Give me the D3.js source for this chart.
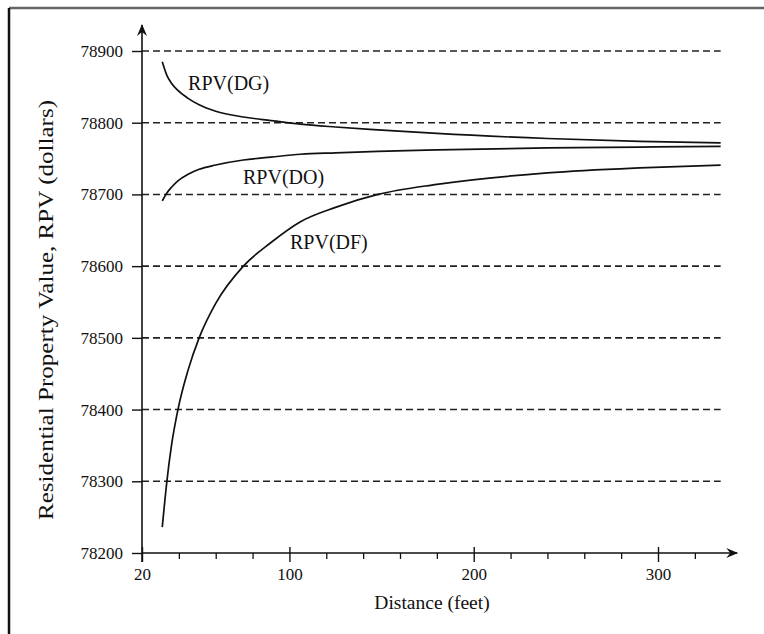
<!DOCTYPE html>
<html>
<head>
<meta charset="utf-8">
<script src="https://d3js.org/d3.v7.min.js"></script>
<style>
body{margin:0;background:#fff;}
text{font-family:"Liberation Serif","DejaVu Serif",serif;fill:#111;}
</style>
</head>
<body>
<svg id="chart" width="764" height="634"></svg>
<script>
/* values */
var distances = [31, 33.5, 36, 39.5, 45, 51, 60, 75, 90, 106, 125, 148, 180, 240, 290, 334];
var rpvDG = [78885, 78866, 78855, 78845, 78834, 78825, 78816, 78808, 78803, 78798, 78794, 78790, 78785, 78778, 78774, 78772];
var rpvDO = [78691, 78702, 78710, 78719, 78728, 78735, 78741, 78748, 78752, 78756, 78758, 78760, 78762, 78765, 78766, 78767];
var rpvDF = [78236, 78300, 78350, 78400, 78455, 78500, 78548, 78600, 78633, 78662, 78682, 78700, 78714, 78730, 78737, 78741];
var xMajor = [20, 100, 200, 300];
var xMinor = [40, 60, 80, 120, 140, 160, 180, 220, 240, 260, 280, 320];
var yTicks = [78200, 78300, 78400, 78500, 78600, 78700, 78800, 78900];
var seriesNames = ["RPV(DG)", "RPV(DO)", "RPV(DF)"];
var serif = "'Liberation Serif','DejaVu Serif',serif";

var svg = d3.select("#chart");

var x = d3.scaleLinear().domain([20, 300]).range([142, 658]);
var y = d3.scaleLinear().domain([78200, 78900]).range([553, 51]);

/* frame */
svg.append("line").attr("x1", 9).attr("x2", 764).attr("y1", 8).attr("y2", 8)
    .attr("stroke", "#666").attr("stroke-width", 2.5);
svg.append("line").attr("x1", 9).attr("x2", 9).attr("y1", 8).attr("y2", 634)
    .attr("stroke", "#111").attr("stroke-width", 2.5);

/* dashed grid */
svg.append("g").selectAll("line")
    .data(yTicks.slice(1))
    .enter().append("line")
    .attr("x1", x(20)).attr("x2", x(334))
    .attr("y1", function(d){ return y(d); })
    .attr("y2", function(d){ return y(d); })
    .attr("stroke", "#222").attr("stroke-width", 1.6)
    .attr("stroke-dasharray", "7,4");

/* axes */
var defs = svg.append("defs");
defs.append("marker").attr("id", "arrow")
    .attr("viewBox", "0 0 12 10").attr("refX", 11).attr("refY", 5)
    .attr("markerWidth", 12).attr("markerHeight", 10)
    .attr("markerUnits", "userSpaceOnUse").attr("orient", "auto")
    .append("path").attr("d", "M0,0 L12,5 L0,10 L4,5 Z").attr("fill", "#111");

svg.append("line").attr("x1", x(20)).attr("x2", x(20)).attr("y1", 562).attr("y2", 25)
    .attr("stroke", "#111").attr("stroke-width", 1.6).attr("marker-end", "url(#arrow)");
svg.append("line").attr("x1", x(20)).attr("x2", x(343)).attr("y1", y(78200)).attr("y2", y(78200))
    .attr("stroke", "#111").attr("stroke-width", 1.6).attr("marker-end", "url(#arrow)");

var xAxis = svg.append("g").attr("transform", "translate(0," + y(78200) + ")")
    .call(d3.axisBottom(x).tickValues(xMajor).tickSize(9).tickPadding(6).tickFormat(d3.format("d")))
    .attr("font-family", serif).attr("font-size", 17);
xAxis.select(".domain").remove();
xAxis.selectAll(".tick line").attr("y1", -6).attr("stroke", "#111").attr("stroke-width", 1.4);
xAxis.selectAll("text").attr("fill", "#111");

var xAxisMinor = svg.append("g").attr("transform", "translate(0," + y(78200) + ")")
    .call(d3.axisBottom(x).tickValues(xMinor).tickSize(6).tickFormat(""));
xAxisMinor.select(".domain").remove();
xAxisMinor.selectAll(".tick line").attr("stroke", "#111").attr("stroke-width", 1.3);

var yAxis = svg.append("g").attr("transform", "translate(" + x(20) + ",0)")
    .call(d3.axisLeft(y).tickValues(yTicks).tickSize(10).tickPadding(9).tickFormat(d3.format("d")))
    .attr("font-family", serif).attr("font-size", 17);
yAxis.select(".domain").remove();
yAxis.selectAll(".tick line").attr("stroke", "#111").attr("stroke-width", 1.4);
yAxis.selectAll("text").attr("fill", "#111");

/* curves */
var line = d3.line()
    .x(function(d){ return x(d[0]); })
    .y(function(d){ return y(d[1]); })
    .curve(d3.curveMonotoneX);

[rpvDG, rpvDO, rpvDF].forEach(function(vals){
    svg.append("path")
	.datum(d3.zip(distances, vals))
	.attr("d", line)
	.attr("fill", "none").attr("stroke", "#111").attr("stroke-width", 1.7);
});

/* curve labels */
var labelAt = [[45, 78846], [74.8, 78714], [100.3, 78624]];
seriesNames.forEach(function(n, i){
    svg.append("text")
	.attr("x", x(labelAt[i][0])).attr("y", y(labelAt[i][1]))
	.attr("font-size", 20)
	.text(n);
});

/* axis titles */
svg.append("text")
    .attr("x", 432).attr("y", 609)
    .attr("text-anchor", "middle").attr("font-size", 19.5)
    .text("Distance (feet)");
svg.append("text")
    .attr("transform", "translate(53,310) rotate(-90)")
    .attr("text-anchor", "middle").attr("font-size", 20)
    .attr("textLength", 420).attr("lengthAdjust", "spacingAndGlyphs")
    .text("Residential Property Value, RPV (dollars)");
</script>
</body>
</html>
